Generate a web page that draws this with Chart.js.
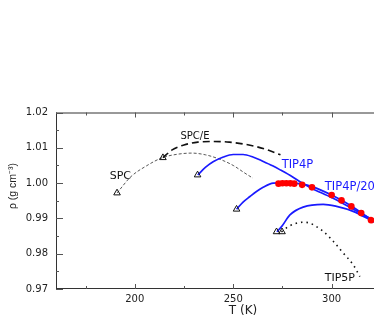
<!DOCTYPE html>
<html><head><meta charset="utf-8">
<script src="https://cdn.jsdelivr.net/npm/chart.js@4.4.1/dist/chart.umd.min.js"></script>
<style>html,body{margin:0;padding:0;background:#fff;overflow:hidden;}#c{display:block;}</style>
</head><body>
<canvas id="c" width="374" height="327"></canvas>
<script>
// ---- data (T in K, density in g/cm^3) ----
const spcT   = [191, 198, 206, 214, 222, 229, 236, 243, 250, 256, 260];
const spcRho = [0.9972, 1.0018, 1.0049, 1.0072, 1.0082, 1.0085, 1.0080, 1.0068, 1.0050, 1.0028, 1.0014];
const spceT   = [214.3, 219, 225, 232, 240, 248, 255, 262, 268, 274];
const spceRho = [1.0072, 1.0094, 1.0108, 1.0116, 1.0118, 1.0116, 1.0111, 1.0103, 1.0093, 1.0080];
const tip4pT   = [232, 236, 240, 245, 250, 255, 260, 265, 270, 274, 280, 285, 290, 300, 310, 322];
const tip4pRho = [1.0023, 1.0045, 1.0061, 1.0074, 1.0081, 1.0081, 1.0074, 1.0062, 1.0049, 1.0037, 1.0018, 1.0000, 0.9985, 0.9959, 0.9929, 0.9893];
const tip4p2005T   = [251.7, 255, 258.5, 262, 265.2, 270.3, 275.2, 280, 285, 290, 300, 310, 320, 323];
const tip4p2005Rho = [0.9926, 0.9946, 0.9962, 0.9977, 0.9988, 0.99998, 1.0001, 0.99995, 0.9997, 0.9990, 0.9966, 0.9935, 0.9896, 0.9884];
const model4T   = [272.2, 275, 278.8, 285.5, 295.7, 302.5, 310.9, 321.2];
const model4Rho = [0.9862, 0.9880, 0.9910, 0.9932, 0.9940, 0.9934, 0.9920, 0.9891];
const tip5pT   = [274.5, 278, 282, 285, 288, 291, 296, 301, 306, 311, 314.3];
const tip5pRho = [0.9862, 0.9877, 0.9886, 0.9889, 0.9888, 0.9881, 0.9862, 0.9834, 0.9801, 0.9768, 0.9735];
const expT   = [273, 275, 277, 279, 281, 285, 290, 300, 305, 310, 315, 320];
const expRho = [0.99984, 0.99994, 0.99997, 0.99993, 0.99984, 0.9995, 0.9988, 0.9966, 0.9951, 0.9934, 0.9915, 0.9895];
const limitT   = [191, 214.3, 231.9, 251.7, 272.0, 274.8];
const limitRho = [0.9972, 1.0072, 1.0023, 0.9926, 0.9862, 0.9862];
const xTicks = [200, 250, 300];
const yTicks = [0.97, 0.98, 0.99, 1.00, 1.01, 1.02];
const labelText = ['SPC', 'SPC/E', 'TIP4P', 'TIP4P/2005', 'TIP5P'];
const labelT    = [192.7, 230.6, 274.6, 296.5, 296.5];
const labelRho  = [1.0019, 1.01325, 1.00517, 0.99901, 0.97304];
const xTitle = 'T (K)';
const yTitle = 'ρ (g cm⁻³)';

const pts = (xs, ys) => xs.map((x, i) => ({x: x, y: ys[i]}));
const BLUE = '#1a1aff';

const framePlugin = {
  id: 'frame',
  afterDraw(chart) {
    const {ctx, chartArea: a, scales: {x, y}} = chart;
    ctx.save();
    ctx.strokeStyle = '#333';
    ctx.lineWidth = 1;
    ctx.beginPath();
    ctx.moveTo(a.left + 0.5, a.top); ctx.lineTo(a.left + 0.5, a.bottom);
    ctx.moveTo(a.left, a.top + 0.5); ctx.lineTo(a.right, a.top + 0.5);
    ctx.moveTo(a.left, a.bottom - 0.5); ctx.lineTo(a.right, a.bottom - 0.5);
    ctx.stroke();
    ctx.strokeStyle = '#555';
    ctx.beginPath();
    for (let v = 175; v <= 325; v += 25) {
      const px = Math.round(x.getPixelForValue(v)) + 0.5;
      if (px > a.right) continue;
      const len = (v % 50 === 0) ? 5 : 3;
      ctx.moveTo(px, a.bottom); ctx.lineTo(px, a.bottom - len);
      ctx.moveTo(px, a.top); ctx.lineTo(px, a.top + len);
    }
    for (let k = 0; k <= 10; k++) {
      const v = 0.97 + k * 0.005;
      const py = Math.round(y.getPixelForValue(v)) + 0.5;
      const len = (k % 2 === 0) ? 7 : 3;
      ctx.moveTo(a.left, py); ctx.lineTo(a.left + len, py);
    }
    ctx.stroke();
    const colors = ['#111', '#111', BLUE, BLUE, '#111'];
    const sizes = [11, 10, 11.5, 11.5, 11];
    const aligns = ['center', 'center', 'left', 'left', 'left'];
    for (let i = 0; i < labelText.length; i++) {
      ctx.fillStyle = colors[i];
      ctx.font = sizes[i] + 'px "DejaVu Sans"';
      ctx.textAlign = aligns[i];
      ctx.textBaseline = 'middle';
      ctx.fillText(labelText[i], x.getPixelForValue(labelT[i]), y.getPixelForValue(labelRho[i]));
    }
    // axis titles (the x axis of the original runs to 350 K, beyond the visible crop)
    ctx.fillStyle = '#222';
    ctx.font = '12px "DejaVu Sans"';
    ctx.textAlign = 'center';
    ctx.textBaseline = 'middle';
    ctx.fillText(xTitle, x.getPixelForValue(255), 310.5);
    ctx.save();
    ctx.translate(13, 186);
    ctx.rotate(-Math.PI / 2);
    ctx.font = '10.5px "Liberation Sans"';
    ctx.fillText(yTitle, 0, 0);
    ctx.restore();
    ctx.restore();
  }
};

Chart.defaults.font.family = '"DejaVu Sans"';
new Chart(document.getElementById('c'), {
  type: 'scatter',
  data: {
    datasets: [
      {label: 'exp', data: pts(expT, expRho), showLine: false, pointRadius: 3.3, pointBackgroundColor: '#ff0000', pointBorderWidth: 0, order: 1},
      {label: 'limit', data: pts(limitT, limitRho), showLine: false, pointStyle: 'triangle', pointRadius: 3.8, pointBackgroundColor: 'rgba(255,255,255,0)', pointBorderColor: '#111', pointBorderWidth: 1, order: 0},
      {label: 'SPC', data: pts(spcT, spcRho), showLine: true, borderColor: '#444', borderWidth: 0.9, borderDash: [3, 2], pointRadius: 0, cubicInterpolationMode: 'monotone', order: 3},
      {label: 'SPC/E', data: pts(spceT, spceRho), showLine: true, borderColor: '#111', borderWidth: 1.6, borderDash: [7, 4], pointRadius: 0, cubicInterpolationMode: 'monotone', order: 3},
      {label: 'TIP4P', data: pts(tip4pT, tip4pRho), showLine: true, borderColor: BLUE, borderWidth: 1.7, pointRadius: 0, cubicInterpolationMode: 'monotone', order: 2},
      {label: 'TIP4P/2005', data: pts(tip4p2005T, tip4p2005Rho), showLine: true, borderColor: BLUE, borderWidth: 1.7, pointRadius: 0, cubicInterpolationMode: 'monotone', order: 2},
      {label: 'model4', data: pts(model4T, model4Rho), showLine: true, borderColor: BLUE, borderWidth: 1.7, pointRadius: 0, cubicInterpolationMode: 'monotone', order: 2},
      {label: 'TIP5P', data: pts(tip5pT, tip5pRho), showLine: true, borderColor: '#111', borderWidth: 1.6, borderDash: [1.5, 4], pointRadius: 0, cubicInterpolationMode: 'monotone', order: 3}
    ]
  },
  options: {
    responsive: false,
    animation: false,
    devicePixelRatio: 1,
    layout: {autoPadding: false, padding: {top: 112.5, left: 0, right: 0, bottom: 0}},
    plugins: {legend: {display: false}, tooltip: {enabled: false}},
    scales: {
      x: {
        type: 'linear', min: 160, max: 321.5,
        afterBuildTicks: s => { s.ticks = xTicks.map(v => ({value: v})); },
        afterFit: s => { s.height = 38; s.paddingLeft = 0; s.paddingRight = 0; },
        grid: {display: false, drawTicks: false}, border: {display: false},
        ticks: {padding: 4, color: '#222', font: {size: 10}, maxRotation: 0}
      },
      y: {
        type: 'linear', min: 0.97, max: 1.02,
        afterBuildTicks: s => { s.ticks = yTicks.map(v => ({value: v})); },
        afterFit: s => { s.width = 56; s.paddingTop = 0; s.paddingBottom = 0; },
        grid: {display: false, drawTicks: false}, border: {display: false},
        ticks: {padding: 8, color: '#222', font: {size: 10}, callback: v => Number(v).toFixed(2)}
      }
    }
  },
  plugins: [framePlugin]
});
</script>
</body></html>
